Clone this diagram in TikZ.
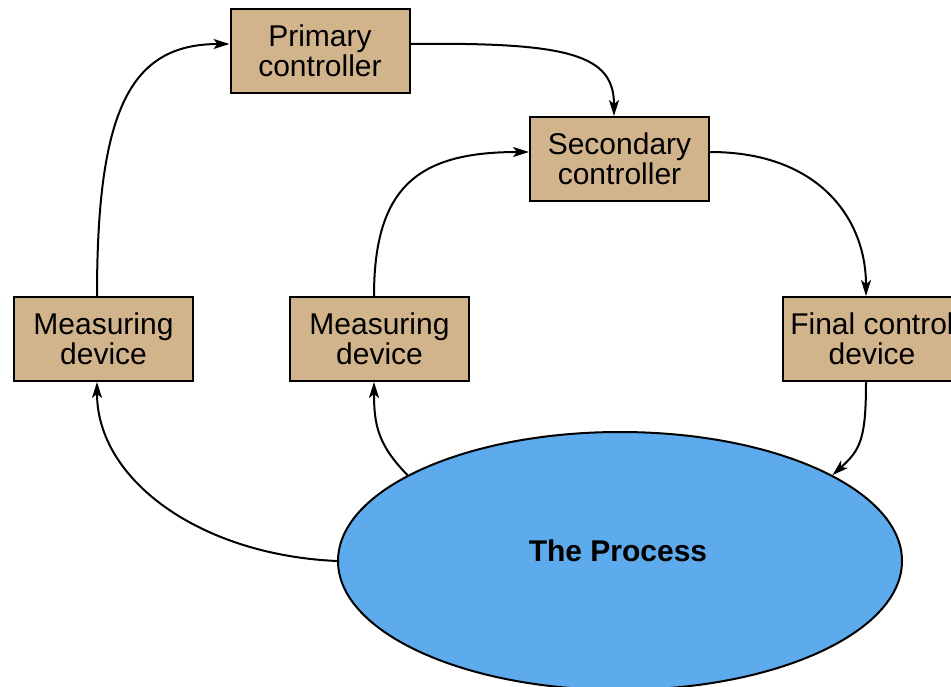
\documentclass[tikz,border=0pt]{standalone}
\usepackage{fontspec}
\setmainfont{Liberation Sans}
\usetikzlibrary{shapes.geometric,arrows.meta}
\definecolor{boxtan}{HTML}{D2B48C}
\definecolor{procblue}{HTML}{5DABEC}
\begin{document}
\begin{tikzpicture}[x=1pt,y=-1pt,
  blk/.style={draw=black,line width=2pt,fill=boxtan,minimum width=179pt,minimum height=84pt,align=center,inner sep=0pt,font=\fontsize{30}{30}\selectfont},
  conn/.style={line width=2pt,-{Stealth[length=16pt,width=10pt,inset=4pt]}}]
\useasboundingbox (0,0) rectangle (951,686);
\node[draw=black,line width=2pt,fill=procblue,ellipse,minimum width=564pt,minimum height=258pt,inner sep=0pt] (proc) at (620,561) {};
\node[font=\fontsize{30}{30}\selectfont\bfseries] (proclabel) at (618,551) {The Process};
\node[blk] (prim) at (320,51) {Primary\\controller};
\node[blk] (sec) at (619.5,159) {Secondary\\controller};
\node[blk] (meas1) at (103.5,339) {Measuring\\device};
\node[blk] (meas2) at (379.5,339) {Measuring\\device};
\node[blk] (fcd) at (872,339) {Final control\\device};
\draw[conn] (meas1.north -| 97,0) .. controls (97,110) and (130,44) .. (prim.west |- 0,44);
\draw[conn] (prim.east |- 0,44) .. controls (570,42) and (614,55) .. (sec.north -| 614,0);
\draw[conn] (meas2.north -| 374,0) .. controls (374,185) and (420,152) .. (sec.west |- 0,152);
\draw[conn] (sec.east |- 0,152) .. controls (820,152) and (866,220) .. (fcd.north -| 866,0);
\draw[conn] (fcd.south -| 866,0) .. controls (866,440) and (860,450) .. (proc.22.5);
\draw[conn] (proc.158) .. controls (378,445) and (374,425) .. (meas2.south -| 374,0);
\draw[conn] (proc.west) .. controls (200,555) and (97,480) .. (meas1.south -| 97,0);
\end{tikzpicture}
\end{document}
